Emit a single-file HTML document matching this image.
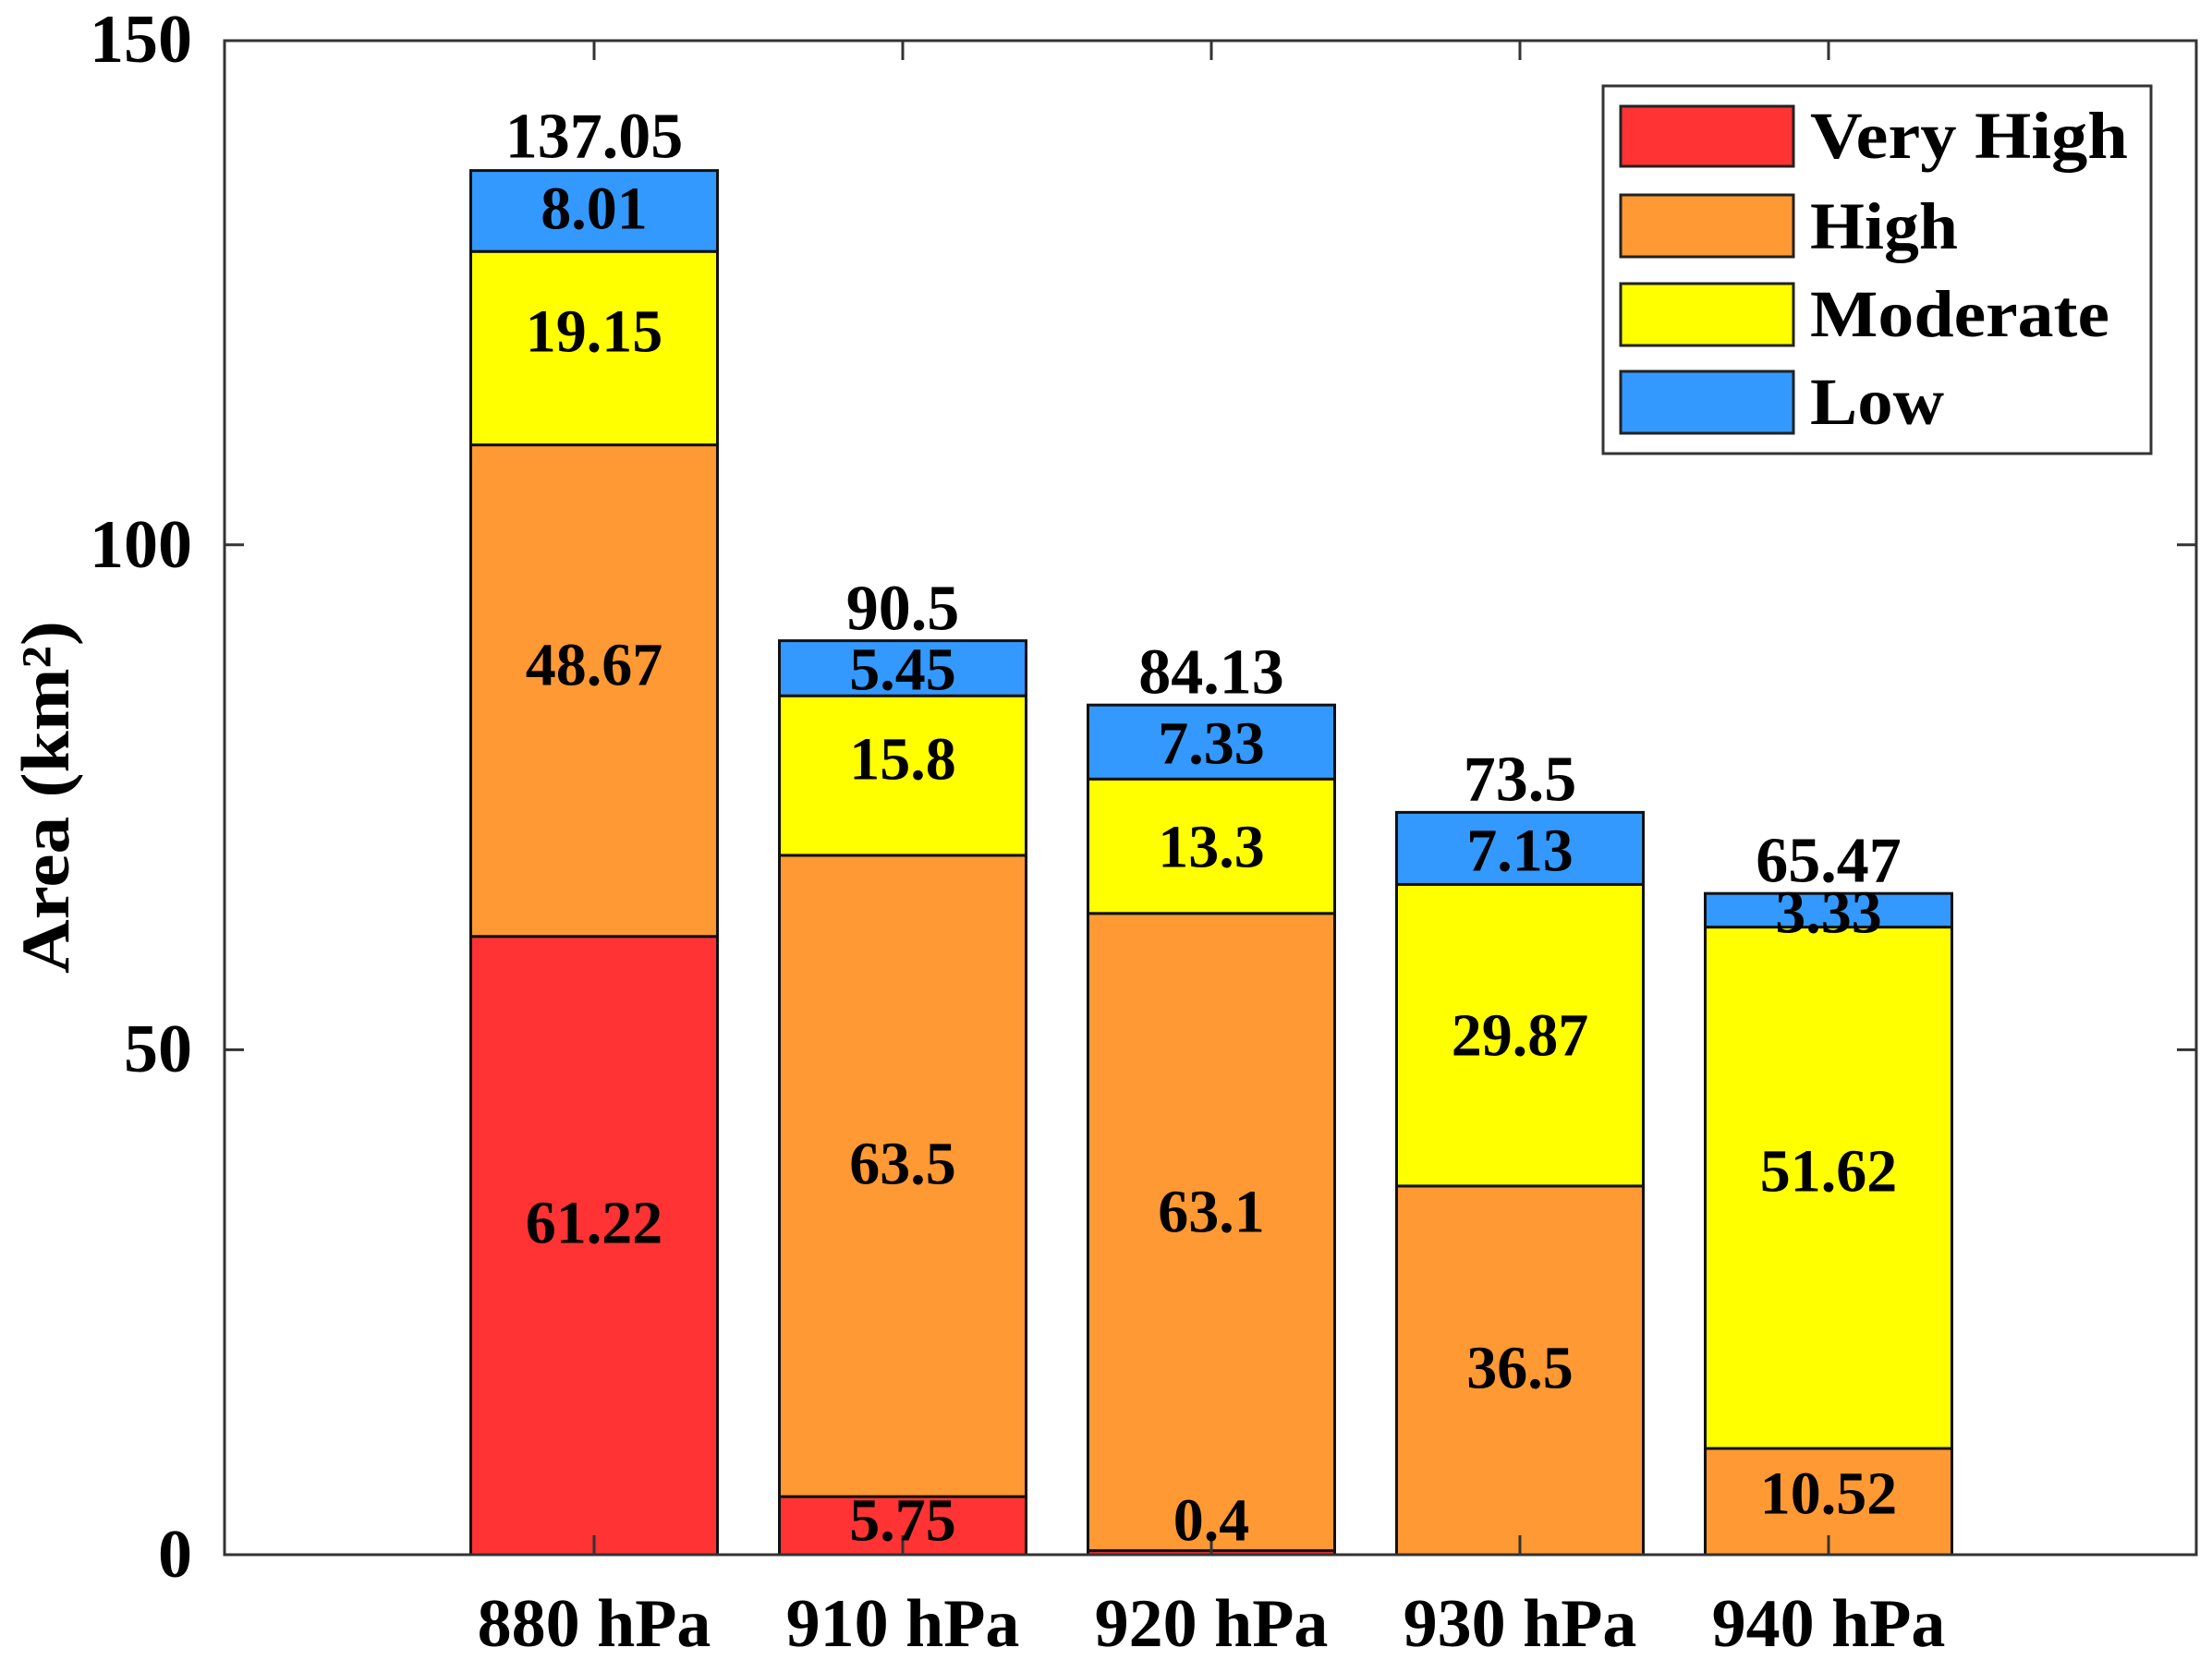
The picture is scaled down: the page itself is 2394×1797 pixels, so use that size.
<!DOCTYPE html>
<html><head><meta charset="utf-8"><style>
html,body{margin:0;padding:0;background:#fff;}
svg{display:block;}
text{font-family:"Liberation Serif","Times New Roman",serif;font-weight:bold;fill:#000;}
</style></head><body>
<svg width="2394" height="1797" viewBox="0 0 2394 1797" xmlns="http://www.w3.org/2000/svg">
<rect x="0" y="0" width="2394" height="1797" fill="#fff"/>
<g stroke="#111" stroke-width="3">
<rect x="509.5" y="1013.7" width="267" height="669.3" fill="#ff3333"/>
<rect x="509.5" y="481.6" width="267" height="532.1" fill="#ff9933"/>
<rect x="509.5" y="272.2" width="267" height="209.4" fill="#ffff00"/>
<rect x="509.5" y="184.6" width="267" height="87.6" fill="#3399ff"/>
<rect x="843.5" y="1620.1" width="267" height="62.9" fill="#ff3333"/>
<rect x="843.5" y="925.9" width="267" height="694.2" fill="#ff9933"/>
<rect x="843.5" y="753.2" width="267" height="172.7" fill="#ffff00"/>
<rect x="843.5" y="693.6" width="267" height="59.6" fill="#3399ff"/>
<rect x="1177.5" y="1678.6" width="267" height="4.4" fill="#ff3333"/>
<rect x="1177.5" y="988.8" width="267" height="689.8" fill="#ff9933"/>
<rect x="1177.5" y="843.3" width="267" height="145.5" fill="#ffff00"/>
<rect x="1177.5" y="763.2" width="267" height="80.1" fill="#3399ff"/>
<rect x="1511.5" y="1283.9" width="267" height="399.1" fill="#ff9933"/>
<rect x="1511.5" y="957.4" width="267" height="326.5" fill="#ffff00"/>
<rect x="1511.5" y="879.4" width="267" height="78" fill="#3399ff"/>
<rect x="1845.5" y="1568" width="267" height="115" fill="#ff9933"/>
<rect x="1845.5" y="1003.6" width="267" height="564.4" fill="#ffff00"/>
<rect x="1845.5" y="967.2" width="267" height="36.4" fill="#3399ff"/>
</g>
<rect x="243" y="44" width="2134" height="1639" fill="none" stroke="#333" stroke-width="3"/>
<g stroke="#333" stroke-width="3">
<line x1="643" y1="1683" x2="643" y2="1662"/><line x1="977" y1="1683" x2="977" y2="1662"/><line x1="1311" y1="1683" x2="1311" y2="1662"/><line x1="1645" y1="1683" x2="1645" y2="1662"/><line x1="1979" y1="1683" x2="1979" y2="1662"/>
<line x1="643" y1="44" x2="643" y2="65"/><line x1="977" y1="44" x2="977" y2="65"/><line x1="1311" y1="44" x2="1311" y2="65"/><line x1="1645" y1="44" x2="1645" y2="65"/><line x1="1979" y1="44" x2="1979" y2="65"/>
<line x1="243" y1="1136.4" x2="264" y2="1136.4"/><line x1="243" y1="589.7" x2="264" y2="589.7"/>
<line x1="2377" y1="1136.4" x2="2356" y2="1136.4"/><line x1="2377" y1="589.7" x2="2356" y2="589.7"/>
</g>
<g font-size="74" text-anchor="end" dominant-baseline="central">
<text x="208" y="43">150</text>
<text x="208" y="590">100</text>
<text x="208" y="1136">50</text>
<text x="208" y="1683">0</text>
</g>
<g font-size="74" text-anchor="middle" dominant-baseline="central">
<text x="643" y="1758">880 hPa</text>
<text x="977" y="1758">910 hPa</text>
<text x="1311" y="1758">920 hPa</text>
<text x="1645" y="1758">930 hPa</text>
<text x="1979" y="1758">940 hPa</text>
</g>
<text x="0" y="0" font-size="74" text-anchor="middle" dominant-baseline="central" textLength="382" lengthAdjust="spacingAndGlyphs" transform="translate(50,863) rotate(-90)">Area (km²)</text>
<g font-size="66" text-anchor="middle" dominant-baseline="central">
<text x="643" y="1324">61.22</text>
<text x="643" y="720">48.67</text>
<text x="643" y="359">19.15</text>
<text x="643" y="226">8.01</text>
<text x="977" y="1646">5.75</text>
<text x="977" y="1260">63.5</text>
<text x="977" y="822">15.8</text>
<text x="977" y="725">5.45</text>
<text x="1311" y="1646">0.4</text>
<text x="1311" y="1312">63.1</text>
<text x="1311" y="917">13.3</text>
<text x="1311" y="805">7.33</text>
<text x="1645" y="1481">36.5</text>
<text x="1645" y="1121">29.87</text>
<text x="1645" y="921">7.13</text>
<text x="1979" y="1617">10.52</text>
<text x="1979" y="1268">51.62</text>
<text x="1979" y="988">3.33</text>
</g>
<g font-size="70" text-anchor="middle" dominant-baseline="central">
<text x="643" y="148">137.05</text>
<text x="977" y="659">90.5</text>
<text x="1311" y="728">84.13</text>
<text x="1645" y="844">73.5</text>
<text x="1979" y="932">65.47</text>
</g>
<rect x="1735" y="93" width="593" height="398" fill="#fff" stroke="#333" stroke-width="3"/>
<g stroke="#222" stroke-width="3">
<rect x="1754" y="115" width="187" height="65" fill="#ff3333"/>
<rect x="1754" y="211" width="187" height="67" fill="#ff9933"/>
<rect x="1754" y="307" width="187" height="67" fill="#ffff00"/>
<rect x="1754" y="402" width="187" height="67" fill="#3399ff"/>
</g>
<g font-size="72">
<text x="1959" y="171" textLength="344" lengthAdjust="spacingAndGlyphs">Very High</text>
<text x="1959" y="269" textLength="160" lengthAdjust="spacingAndGlyphs">High</text>
<text x="1959" y="364" textLength="324" lengthAdjust="spacingAndGlyphs">Moderate</text>
<text x="1959" y="459" textLength="145" lengthAdjust="spacingAndGlyphs">Low</text>
</g>
</svg>
</body></html>
